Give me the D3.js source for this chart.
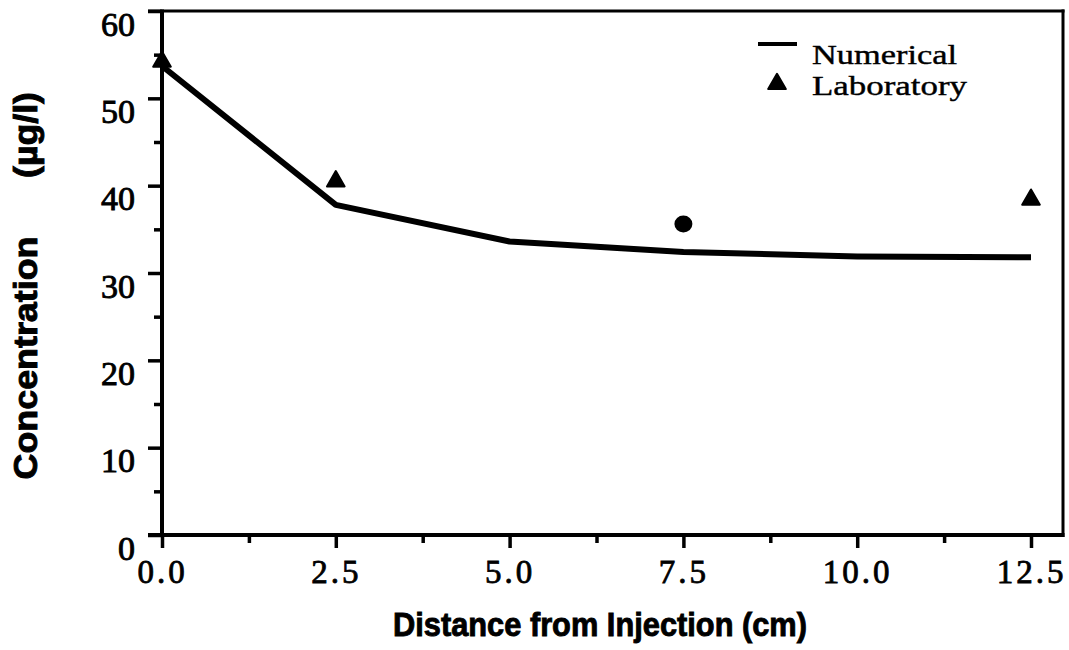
<!DOCTYPE html>
<html>
<head>
<meta charset="utf-8">
<script src="https://cdn.jsdelivr.net/npm/d3@7"></script>
<style>
  html, body { margin: 0; padding: 0; background: #fff; }
  svg { display: block; }
</style>
</head>
<body>
<svg id="chart" width="1069" height="650"></svg>
<script>
// Distance along the column (cm)
const numericalX = [0.0, 2.5, 5.0, 7.5, 10.0, 12.5];
// Simulated concentration (µg/l)
const numericalY = [53.7, 37.8, 33.6, 32.4, 31.9, 31.8];

// Measured concentrations
const labX = [0.0, 2.5, 7.5, 12.5];
const labY = [54.2, 40.5, 35.6, 38.4];
const labShape = ["triangle", "triangle", "circle", "triangle"];

// Axis ticks
const xMajor = [0.0, 2.5, 5.0, 7.5, 10.0, 12.5];
const xMinor = [1.25, 3.75, 6.25, 8.75, 11.25];
const yMajor = [0, 10, 20, 30, 40, 50, 60];
const yMinor = [5, 15, 25, 35, 45, 55];

const legendLabels = ["Numerical", "Laboratory"];
const xTitle = "Distance from Injection (cm)";
const yTitleMain = "Concentration";
const yTitleUnit = "(µg/l)";

// Layout
const plotLeft = 162, plotRight = 1063, plotTop = 11, plotBottom = 535;

const svg = d3.select("#chart");

const x = d3.scaleLinear().domain([0, 12.5]).range([plotLeft, 1031]);
const y = d3.scaleLinear().domain([0, 60]).range([plotBottom, plotTop]);

const serif = "'Liberation Serif', 'Times New Roman', serif";
const sans = "'Liberation Sans', Arial, Helvetica, sans-serif";

// Minor ticks
svg.append("g")
  .attr("transform", `translate(${plotLeft},0)`)
  .call(d3.axisLeft(y).tickValues(yMinor).tickSize(8).tickFormat(""))
  .call(g => g.select(".domain").remove())
  .call(g => g.selectAll("line").attr("stroke", "#000").attr("stroke-width", 3.5));

svg.append("g")
  .attr("transform", `translate(0,${plotBottom})`)
  .call(d3.axisBottom(x).tickValues(xMinor).tickSize(8).tickFormat(""))
  .call(g => g.select(".domain").remove())
  .call(g => g.selectAll("line").attr("stroke", "#000").attr("stroke-width", 3.5));

// Major ticks with labels
const yAxis = svg.append("g")
  .attr("transform", `translate(${plotLeft},0)`)
  .call(d3.axisLeft(y).tickValues(yMajor).tickSize(14).tickPadding(13).tickFormat(d3.format("d")))
  .call(g => g.select(".domain").remove());
yAxis.selectAll("line").attr("stroke", "#000").attr("stroke-width", 3.5);
yAxis.selectAll("text")
  .attr("dy", 24)
  .attr("fill", "#000")
  .attr("stroke", "#000")
  .attr("stroke-width", 0.9)
  .style("font-family", serif)
  .style("font-size", "34px");

const xAxis = svg.append("g")
  .attr("transform", `translate(0,${plotBottom})`)
  .call(d3.axisBottom(x).tickValues(xMajor).tickSize(13).tickFormat(d3.format(".1f")))
  .call(g => g.select(".domain").remove());
xAxis.selectAll("line").attr("stroke", "#000").attr("stroke-width", 3.5);
xAxis.selectAll("text")
  .attr("y", 48)
  .attr("dy", 0)
  .attr("fill", "#000")
  .attr("stroke", "#000")
  .attr("stroke-width", 0.8)
  .style("font-family", serif)
  .style("font-size", "33px")
  .style("letter-spacing", "3px");

// Plot frame
const frame = svg.append("g").attr("stroke", "#000").attr("fill", "none");
frame.append("line").attr("x1", 148).attr("x2", plotRight + 1.5).attr("y1", plotTop).attr("y2", plotTop).attr("stroke-width", 3);
frame.append("line").attr("x1", 148).attr("x2", plotRight + 1.5).attr("y1", plotBottom).attr("y2", plotBottom).attr("stroke-width", 4);
frame.append("line").attr("x1", plotLeft).attr("x2", plotLeft).attr("y1", plotTop - 1.5).attr("y2", plotBottom).attr("stroke-width", 4);
frame.append("line").attr("x1", plotRight).attr("x2", plotRight).attr("y1", plotTop - 1.5).attr("y2", plotBottom + 2).attr("stroke-width", 3);

// Numerical curve
const numerical = numericalX.map((d, i) => [d, numericalY[i]]);
svg.append("path")
  .datum(numerical)
  .attr("fill", "none")
  .attr("stroke", "#000")
  .attr("stroke-width", 6)
  .attr("stroke-linejoin", "round")
  .attr("d", d3.line().x(d => x(d[0])).y(d => y(d[1])));

// Laboratory points
const tri = d3.symbol().type(d3.symbolTriangle).size(135);
const lab = labX.map((d, i) => ({ x: d, y: labY[i], shape: labShape[i] }));
const marks = svg.append("g").attr("fill", "#000");
marks.selectAll("path.tri")
  .data(lab.filter(d => d.shape === "triangle"))
  .join("path")
  .attr("class", "tri")
  .attr("d", tri)
  .attr("stroke", "#000")
  .attr("stroke-width", 2)
  .attr("stroke-linejoin", "round")
  .attr("transform", d => `translate(${x(d.x)},${y(d.y)})`);
marks.selectAll("ellipse")
  .data(lab.filter(d => d.shape === "circle"))
  .join("ellipse")
  .attr("cx", d => x(d.x))
  .attr("cy", d => y(d.y))
  .attr("rx", 9)
  .attr("ry", 8.5);

// Legend
const legend = svg.append("g");
legend.append("line")
  .attr("x1", 758).attr("x2", 797).attr("y1", 44).attr("y2", 44)
  .attr("stroke", "#000").attr("stroke-width", 4);
legend.append("path")
  .attr("d", tri)
  .attr("stroke", "#000").attr("stroke-width", 2).attr("stroke-linejoin", "round")
  .attr("transform", "translate(777,84)");
legend.selectAll("text")
  .data(legendLabels)
  .join("text")
  .attr("x", 812)
  .attr("y", (d, i) => 64 + i * 31)
  .attr("textLength", (d, i) => [145, 155][i])
  .attr("lengthAdjust", "spacingAndGlyphs")
  .attr("fill", "#000")
  .attr("stroke", "#000")
  .attr("stroke-width", 0.4)
  .style("font-family", serif)
  .style("font-size", "27px")
  .text(d => d);

// Axis titles
const titleStyle = sel => sel
  .attr("text-anchor", "middle")
  .attr("lengthAdjust", "spacingAndGlyphs")
  .attr("fill", "#000")
  .attr("stroke", "#000")
  .attr("stroke-width", 0.9)
  .style("font-family", sans)
  .style("font-weight", "bold")
  .style("font-size", "33px");

svg.append("text")
  .attr("x", 600).attr("y", 636)
  .attr("textLength", 414)
  .call(titleStyle)
  .text(xTitle);

svg.append("text")
  .attr("transform", "translate(37,358) rotate(-90)")
  .attr("textLength", 243)
  .call(titleStyle)
  .text(yTitleMain);

svg.append("text")
  .attr("transform", "translate(37,135) rotate(-90)")
  .attr("textLength", 86)
  .call(titleStyle)
  .text(yTitleUnit);
</script>
</body>
</html>
